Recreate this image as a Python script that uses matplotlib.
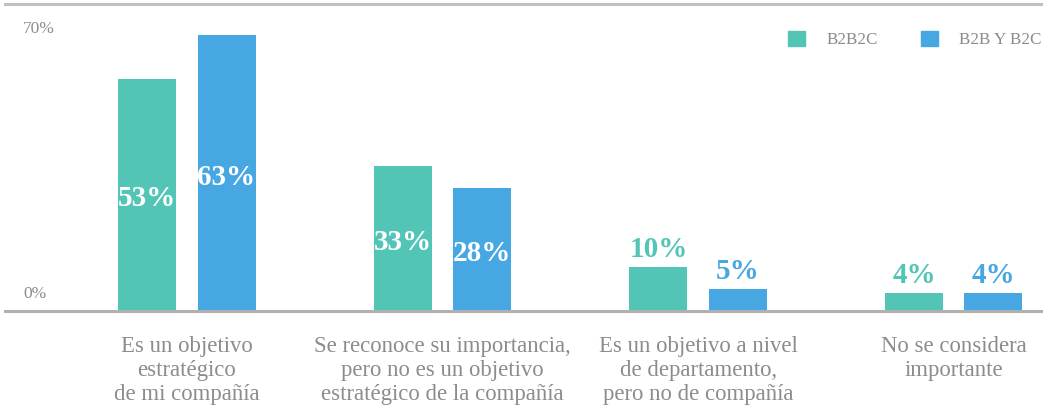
import matplotlib
matplotlib.use("Agg")
import matplotlib.pyplot as plt
from matplotlib.patches import Patch
import numpy as np

categories = [
    "Es un objetivo\nestratégico\nde mi compañía",
    "Se reconoce su importancia,\npero no es un objetivo\nestratégico de la compañía",
    "Es un objetivo a nivel\nde departamento,\npero no de compañía",
    "No se considera\nimportante",
]
series_names = ["B2B2C", "B2B Y B2C"]
b2b2c = [53, 33, 10, 4]
b2b_y_b2c = [63, 28, 5, 4]
ytick_labels = ["0%", "70%"]

TEAL = "#52C5B6"
BLUE = "#47A7E3"
GRAY = "#8c8c8c"
SERIF = ["Liberation Serif", "DejaVu Serif"]

W, H = 1043, 411
fig = plt.figure(figsize=(W / 100, H / 100), dpi=100)
ax = fig.add_axes([5 / W, 1 - 311 / H, 1 - 5 / W, 307 / H])

x = np.arange(len(categories))
bw = 0.227
off = 0.155
bars1 = ax.bar(x - off, b2b2c, bw, color=TEAL, label=series_names[0])
bars2 = ax.bar(x + off, b2b_y_b2c, bw, color=BLUE, label=series_names[1])

ax.set_xlim(-0.712, 3.350)
ax.set_ylim(0, 70)

for bars, vals, col in [(bars1, b2b2c, TEAL), (bars2, b2b_y_b2c, BLUE)]:
    for b, v in zip(bars, vals):
        cx = b.get_x() + b.get_width() / 2
        if v >= 20:
            ax.annotate(f"{v}%", xy=(cx, v / 2), xytext=(0, -3), textcoords="offset points",
                        ha="center", va="center", color="white",
                        fontsize=21, fontweight="bold", family=SERIF)
        else:
            ax.annotate(f"{v}%", xy=(cx, v), xytext=(0, 3), textcoords="offset points",
                        ha="center", va="bottom", color=col,
                        fontsize=21, fontweight="bold", family=SERIF)

for s in ["left", "right", "bottom", "top"]:
    ax.spines[s].set_visible(False)
ax.axhline(0, color="#b0b0b0", lw=2.2, clip_on=False)
ax.axhline(70, color="#c0c0c0", lw=2.2, clip_on=False, zorder=0)

ax.set_yticks([])
ax.set_xticks(x)
ax.set_xticklabels(categories, family=SERIF, fontsize=16.4, color=GRAY, linespacing=1.2)
ax.tick_params(axis="x", length=0, pad=18)

for val, lab, dy in [(0, ytick_labels[0], 12), (70, ytick_labels[1], -18)]:
    ax.annotate(lab, xy=(0, val), xycoords=("axes fraction", "data"),
                xytext=(13, dy), textcoords="offset points",
                ha="left", va="center", fontsize=12.5, color=GRAY, family=SERIF)

handles = [Patch(color=TEAL, label=series_names[0]), Patch(color=BLUE, label=series_names[1])]
leg = fig.legend(handles=handles, loc="upper left", bbox_to_anchor=(788 / W, 1 - 31 / H),
                 ncol=2, frameon=False, handlelength=1.0, handleheight=1.0,
                 handletextpad=1.25, columnspacing=2.5, borderpad=0, borderaxespad=0,
                 prop={"family": SERIF, "size": 12.3})
for t in leg.get_texts():
    t.set_color(GRAY)

fig.savefig("out.png", dpi=100)
